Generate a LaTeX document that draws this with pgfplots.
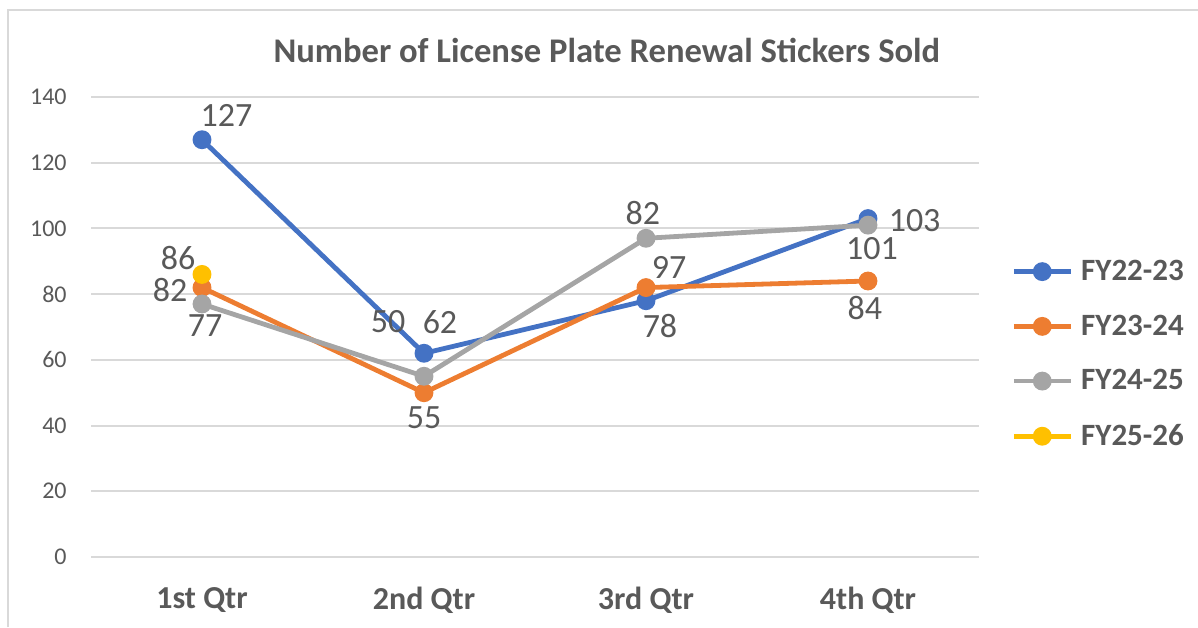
\documentclass[border=0pt]{standalone}
\usepackage{pgfplots}
\pgfplotsset{compat=1.18}
\usepackage{fontspec}
\setmainfont{Carlito}
\definecolor{cBlue}{HTML}{4472C4}
\definecolor{cOrange}{HTML}{ED7D31}
\definecolor{cGray}{HTML}{A5A5A5}
\definecolor{cYellow}{HTML}{FFC000}
\definecolor{txt}{HTML}{595959}
\definecolor{gridc}{HTML}{D9D9D9}
\begin{document}
\begin{tikzpicture}
\useasboundingbox (0,0) rectangle (599pt,313.5pt);
\draw[gridc, line width=1pt] (4pt,0) -- (4pt,308.5pt) -- (599pt,308.5pt);
\begin{axis}[
  at={(45.5pt,35pt)}, anchor=south west,
  scale only axis, width=444pt, height=230pt,
  xmin=-0.5, xmax=3.5, ymin=0, ymax=140,
  xtick={0,1,2,3},
  xticklabels={1st Qtr,2nd Qtr,3rd Qtr,4th Qtr},
  ytick={0,20,...,140},
  axis line style={draw=none},
  major tick length=0pt,
  xmajorgrids=false, ymajorgrids=true,
  y grid style={gridc, line width=1pt},
  /pgf/number format/assume math mode=true,
  yticklabel style={font=\fontsize{12}{14}\selectfont, text=txt, anchor=east, inner sep=0pt, xshift=-12pt},
  xticklabel style={font=\bfseries\fontsize{16}{18}\selectfont, text=txt, anchor=center, inner sep=0pt, yshift=-21.5pt},
  title={Number of License Plate Renewal Stickers Sold},
  title style={font=\bfseries\fontsize{17.3}{20}\selectfont, text=txt, at={(axis description cs:0.581,1.076)}, anchor=center, inner sep=0pt},
  every axis plot/.append style={line width=2.4pt, mark=*, mark size=3.5pt, mark options={solid}},
  legend style={at={(axis description cs:1.036,0.441)}, anchor=west, draw=none, fill=none, inner sep=0pt,
    font=\bfseries\fontsize{15.5}{18}\selectfont, text=txt,
    row sep=15.7pt, column sep=4pt,
    nodes={inner sep=0pt}},
  legend cell align=left,
  legend image code/.code={\draw[mark repeat=2, mark phase=2, #1] plot coordinates {(0pt,0pt) (14.25pt,0pt) (28.5pt,0pt)};},
  clip=false,
]
\addplot[color=cBlue] coordinates {(0,127) (1,62) (2,78) (3,103)};
\addlegendentry{FY22-23}
\addplot[color=cOrange] coordinates {(0,82) (1,50) (2,82) (3,84)};
\addlegendentry{FY23-24}
\addplot[color=cGray] coordinates {(0,77) (1,55) (2,97) (3,101)};
\addlegendentry{FY24-25}
\addplot[color=cYellow] coordinates {(0,86)};
\addlegendentry{FY25-26}
\begin{scope}[every node/.style={font=\fontsize{17}{20}\selectfont, text=txt, inner sep=0pt}]
\node at (axis cs:0.11,134.5) {127};
\node at (axis cs:-0.108,91.0) {86};
\node at (axis cs:-0.144,81.3) {82};
\node at (axis cs:0.014,70.3) {77};
\node at (axis cs:0.838,71.5) {50};
\node at (axis cs:1.072,71.5) {62};
\node at (axis cs:1.0,42.3) {55};
\node at (axis cs:1.986,104.7) {82};
\node at (axis cs:2.104,88) {97};
\node at (axis cs:2.063,70.3) {78};
\node at (axis cs:3.018,94) {101};
\node at (axis cs:3.21,102.3) {103};
\node at (axis cs:2.986,75.8) {84};
\end{scope}
\end{axis}
\end{tikzpicture}
\end{document}
